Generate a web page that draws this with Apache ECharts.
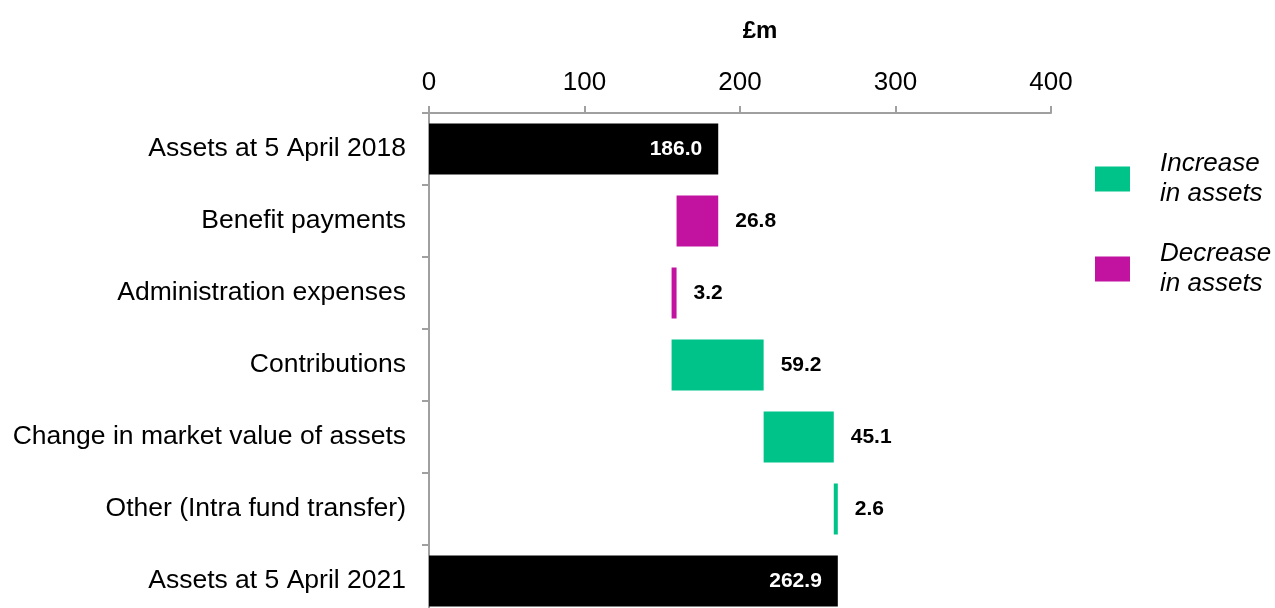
<!DOCTYPE html>
<html>
<head>
<meta charset="utf-8">
<title>Scheme assets 2018–2021</title>
<script src="https://cdn.jsdelivr.net/npm/echarts@6/dist/echarts.min.js"></script>
<style>
  html, body { margin: 0; padding: 0; background: #ffffff; }
  #chart { width: 1275px; height: 608px; }
</style>
</head>
<body>
<div id="chart"></div>
<script>
// Row labels, top to bottom
const categories = [
  'Assets at 5 April 2018',
  'Benefit payments',
  'Administration expenses',
  'Contributions',
  'Change in market value of assets',
  'Other (Intra fund transfer)',
  'Assets at 5 April 2021'
];
// Values in £m
const openingAssets = 186.0;
const movements = [-26.8, -3.2, 59.2, 45.1, 2.6];
const closingAssets = 262.9;
const axisTicks = [0, 100, 200, 300, 400];
const legendNames = ['Increase\nin assets', 'Decrease\nin assets'];

const COLOR_UP = '#00c389';
const COLOR_DOWN = '#c1139f';
const FONT = "'Liberation Sans', Arial, sans-serif";

// Build the waterfall: invisible offset + visible segment for each row
const round1 = v => Math.round(v * 10) / 10;
const baseData = ['-'];
const totalData = [openingAssets];
const upData = ['-'];
const downData = ['-'];
let running = openingAssets;
movements.forEach(m => {
  if (m < 0) {
    running = round1(running + m);
    baseData.push(running);
    upData.push('-');
    downData.push(-m);
  } else {
    baseData.push(running);
    running = round1(running + m);
    upData.push(m);
    downData.push('-');
  }
  totalData.push('-');
});
baseData.push('-');
totalData.push(closingAssets);
upData.push('-');
downData.push('-');

const valueLabel = {
  show: true,
  position: 'right',
  distance: 17,
  fontFamily: FONT,
  fontSize: 21,
  fontWeight: 'bold',
  color: '#000',
  formatter: p => Number(p.value).toFixed(1)
};

const chart = echarts.init(document.getElementById('chart'), null, { renderer: 'canvas' });
chart.setOption({
  animation: false,
  backgroundColor: '#ffffff',
  // plot area runs slightly past the bottom edge of the page
  grid: {
    left: 429, width: 622, top: 113, height: 504,
    containLabel: false, outerBoundsMode: 'none'
  },
  legend: {
    data: legendNames,
    orient: 'vertical',
    left: 1095,
    top: 142,
    padding: 0,
    itemWidth: 35,
    itemHeight: 25,
    itemGap: 16,
    icon: 'rect',
    selectedMode: false,
    textStyle: {
      fontFamily: FONT,
      fontSize: 26,
      fontStyle: 'italic',
      lineHeight: 30,
      color: '#000',
      // top padding sets the two-line text a little below the swatch centre
      padding: [14, 0, 0, 25]
    }
  },
  xAxis: {
    type: 'value',
    position: 'top',
    min: axisTicks[0],
    max: axisTicks[axisTicks.length - 1],
    interval: axisTicks[1] - axisTicks[0],
    name: '£m',
    nameLocation: 'middle',
    nameGap: 70,
    nameTextStyle: {
      fontFamily: FONT,
      fontSize: 24,
      fontWeight: 'bold',
      color: '#000',
      padding: [0, 0, 0, 40]
    },
    axisLine: { show: true, lineStyle: { color: '#a0a0a0', width: 2 } },
    axisTick: { show: true, length: 7, lineStyle: { color: '#a0a0a0', width: 2 } },
    axisLabel: { fontFamily: FONT, fontSize: 26, color: '#000', margin: 17 },
    splitLine: { show: false }
  },
  yAxis: {
    type: 'category',
    data: categories,
    inverse: true,
    axisLine: { show: true, lineStyle: { color: '#a0a0a0', width: 2 } },
    axisTick: { show: true, length: 7, lineStyle: { color: '#a0a0a0', width: 2 } },
    axisLabel: { fontFamily: FONT, fontSize: 26.5, color: '#000', margin: 23 }
  },
  series: [
    {
      name: 'offset',
      type: 'bar',
      stack: 'wf',
      barWidth: 51,
      silent: true,
      itemStyle: { color: 'transparent' },
      data: baseData
    },
    {
      name: 'Total assets',
      type: 'bar',
      stack: 'wf',
      barWidth: 51,
      itemStyle: { color: '#000000' },
      label: Object.assign({}, valueLabel, { position: 'insideRight', distance: 16, color: '#ffffff' }),
      data: totalData
    },
    {
      name: legendNames[0],
      type: 'bar',
      stack: 'wf',
      barWidth: 51,
      itemStyle: { color: COLOR_UP },
      label: valueLabel,
      data: upData
    },
    {
      name: legendNames[1],
      type: 'bar',
      stack: 'wf',
      barWidth: 51,
      itemStyle: { color: COLOR_DOWN },
      label: valueLabel,
      data: downData
    }
  ]
});
</script>
</body>
</html>
